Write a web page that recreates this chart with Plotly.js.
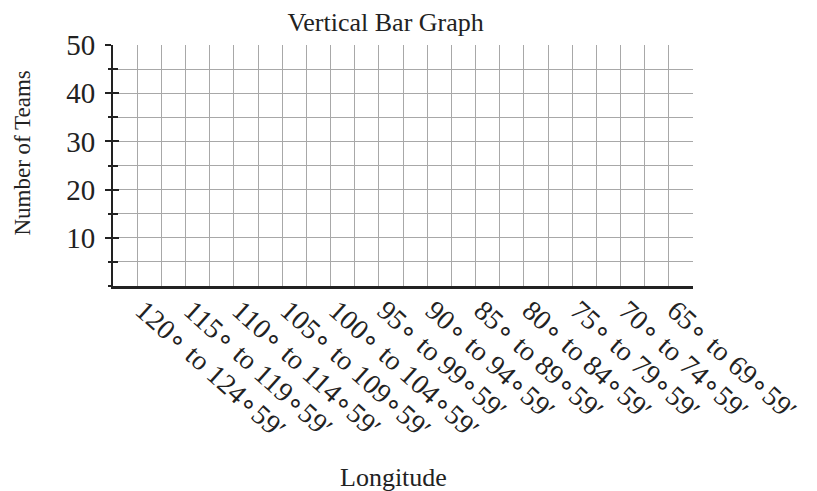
<!DOCTYPE html>
<html>
<head>
<meta charset="utf-8">
<script src="https://cdn.plot.ly/plotly-3.0.1.min.js"></script>
<style>html,body{margin:0;padding:0;background:#fff;}#chart{width:817px;height:491px;}</style>
</head>
<body>
<div id="chart"></div>
<script>
// Data (blank template: no team counts filled in)
const categories = [
  "120∘ to 124∘59′", "115∘ to 119∘59′", "110∘ to 114∘59′", "105∘ to 109∘59′",
  "100∘ to 104∘59′", "95∘ to 99∘59′", "90∘ to 94∘59′", "85∘ to 89∘59′",
  "80∘ to 84∘59′", "75∘ to 79∘59′", "70∘ to 74∘59′", "65∘ to 69∘59′"
];
const teamCounts = [null, null, null, null, null, null, null, null, null, null, null, null];
const yTickValues = [10, 20, 30, 40, 50];
const yTickLabels = ["10", "20", "30", "40", "50"];

const positions = categories.map((c, i) => 2 * i + 1);
const serif = "Liberation Serif, Times New Roman, serif";

const trace = {
  type: "bar",
  x: positions,
  y: teamCounts,
  width: 2,
  marker: {color: "#444"},
  hoverinfo: "skip",
  showlegend: false
};
const ghost = {type: "scatter", x: [0], y: [null], yaxis: "y2", showlegend: false, hoverinfo: "skip"};

const layout = {
  width: 817, height: 491,
  margin: {l: 113, r: 124, t: 45, b: 205},
  paper_bgcolor: "#fff", plot_bgcolor: "#fff",
  font: {family: serif, color: "#222"},
  title: {
    text: "Vertical Bar Graph",
    font: {family: serif, size: 26, color: "#222"},
    xref: "paper", x: 0.47, xanchor: "center",
    yref: "container", y: 0.955, yanchor: "middle"
  },
  xaxis: {
    range: [0, 24], fixedrange: true,
    tickmode: "array", tickvals: positions, ticktext: categories,
    tickangle: 42, ticks: "",
    ticklabelshift: 6, ticklabelstandoff: -6,
    tickfont: {family: serif, size: 28, color: "#222"},
    showgrid: true, gridcolor: "#a8a8a8", gridwidth: 1,
    minor: {tick0: 0, dtick: 1, showgrid: true, gridcolor: "#a8a8a8", gridwidth: 1, ticks: ""},
    showline: true, linecolor: "#222", linewidth: 3,
    zeroline: false
  },
  yaxis: {
    range: [0, 50], fixedrange: true,
    tickmode: "array", tickvals: yTickValues, ticktext: yTickLabels,
    ticks: "outside", ticklen: 6, tickwidth: 2, tickcolor: "#222",
    ticklabelstandoff: 4,
    tickfont: {family: serif, size: 29, color: "#222"},
    showgrid: true, gridcolor: "#a8a8a8", gridwidth: 1,
    minor: {tick0: 0, dtick: 5, showgrid: true, gridcolor: "#a8a8a8", gridwidth: 1, ticks: "outside", ticklen: 3, tickwidth: 2, tickcolor: "#222"},
    showline: true, linecolor: "#222", linewidth: 2,
    zeroline: false
  },
  yaxis2: {
    overlaying: "y", side: "left", range: [0, 50], fixedrange: true,
    tickmode: "array", tickvals: yTickValues,
    ticks: "inside", ticklen: 6, tickwidth: 2, tickcolor: "#222",
    showticklabels: false, showgrid: false, zeroline: false, showline: false,
    minor: {tick0: 0, dtick: 5, ticks: "inside", ticklen: 5, tickwidth: 2, tickcolor: "#222", showgrid: false}
  },
  annotations: [
    {text: "Longitude", xref: "paper", yref: "paper", x: (393.5 - 113) / 580, y: -(478 - 286) / 241,
     xanchor: "center", yanchor: "middle", showarrow: false, font: {family: serif, size: 26, color: "#222"}},
    {text: "Number of Teams", xref: "paper", yref: "paper", x: (22 - 113) / 580, y: (286 - 153.5) / 241,
     xanchor: "center", yanchor: "middle", textangle: -90, showarrow: false, font: {family: serif, size: 23, color: "#222"}}
  ]
};

Plotly.newPlot("chart", [trace, ghost], layout, {staticPlot: true, displayModeBar: false});
</script>
</body>
</html>
